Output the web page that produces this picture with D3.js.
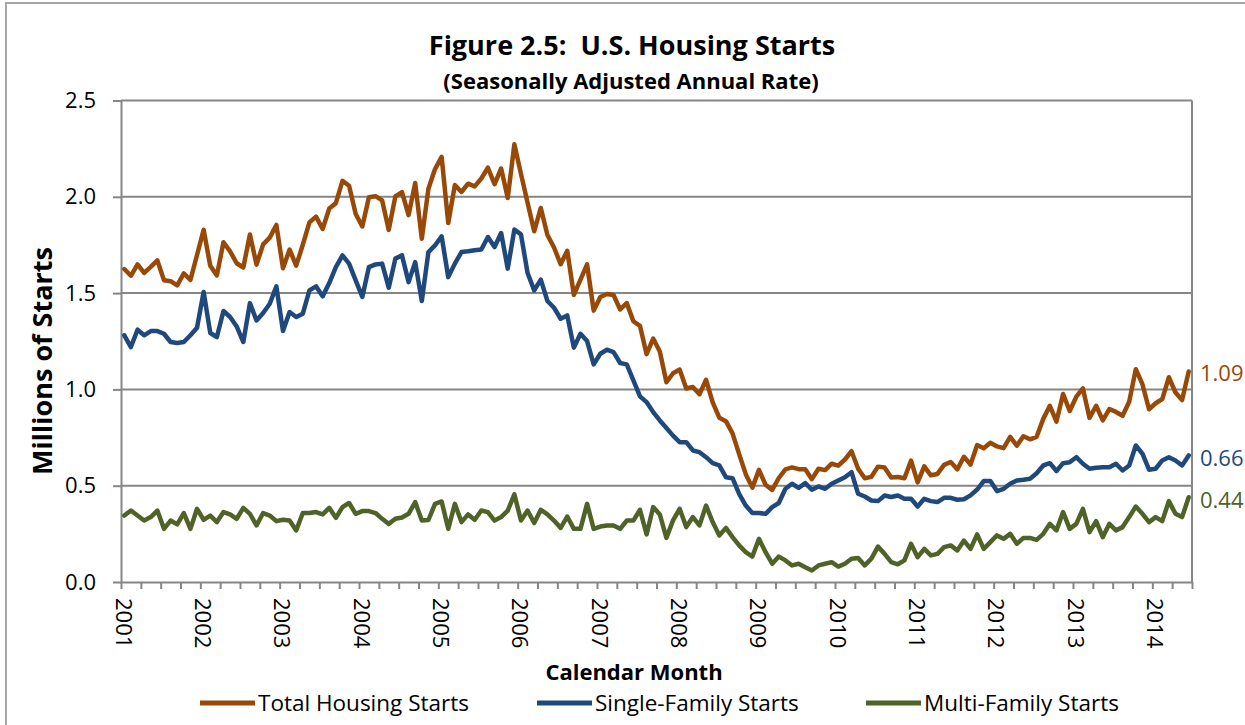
<!DOCTYPE html>
<html>
<head>
<meta charset="utf-8">
<script src="https://cdn.jsdelivr.net/npm/d3@7"></script>
<style>
  body { margin: 0; background: #fff; }
  svg { display: block; font-family: "Open Sans", sans-serif; }
  text { white-space: pre; }
</style>
</head>
<body>
<svg id="chart" width="1245" height="725"></svg>
<script>
// monthly SAAR, millions of starts, Feb 2001 .. Jul 2014
var yearLabels = ["2001", "2002", "2003", "2004", "2005", "2006", "2007",
                  "2008", "2009", "2010", "2011", "2012", "2013", "2014"];

var totalStarts = [
  1.625, 1.590, 1.649, 1.605, 1.636, 1.670, 1.567, 1.562, 1.540, 1.602, 1.568,
  1.698, 1.829, 1.642, 1.592, 1.764, 1.717, 1.655, 1.633, 1.804, 1.648, 1.753, 1.788,
  1.854, 1.629, 1.726, 1.643, 1.751, 1.867, 1.897, 1.833, 1.939, 1.967, 2.083, 2.057,
  1.911, 1.846, 1.998, 2.003, 1.981, 1.828, 2.002, 2.024, 1.905, 2.072, 1.782, 2.042,
  2.144, 2.207, 1.864, 2.061, 2.025, 2.068, 2.054, 2.095, 2.151, 2.065, 2.147, 1.994,
  2.273, 2.119, 1.969, 1.821, 1.942, 1.802, 1.737, 1.650, 1.720, 1.491, 1.570, 1.649,
  1.409, 1.480, 1.495, 1.490, 1.415, 1.448, 1.354, 1.330, 1.183, 1.264, 1.197, 1.037,
  1.084, 1.103, 1.005, 1.013, 0.975, 1.050, 0.933, 0.853, 0.835, 0.772, 0.664, 0.560,
  0.490, 0.582, 0.505, 0.478, 0.540, 0.585, 0.595, 0.586, 0.585, 0.534, 0.588, 0.581,
  0.614, 0.604, 0.636, 0.679, 0.588, 0.539, 0.546, 0.599, 0.594, 0.543, 0.545, 0.539,
  0.630, 0.517, 0.600, 0.554, 0.561, 0.608, 0.623, 0.585, 0.650, 0.610, 0.711, 0.694,
  0.723, 0.704, 0.695, 0.753, 0.708, 0.757, 0.741, 0.754, 0.847, 0.915, 0.833, 0.976,
  0.888, 0.962, 1.005, 0.852, 0.915, 0.839, 0.898, 0.883, 0.863, 0.936, 1.105, 1.027,
  0.897, 0.928, 0.950, 1.063, 0.984, 0.945, 1.093
];

var singleFamily = [
  1.281, 1.220, 1.310, 1.281, 1.303, 1.303, 1.289, 1.246, 1.241, 1.246, 1.281, 1.320,
  1.506, 1.293, 1.272, 1.407, 1.376, 1.327, 1.246, 1.448, 1.358, 1.397, 1.445, 1.535,
  1.303, 1.402, 1.376, 1.393, 1.514, 1.535, 1.483, 1.552, 1.635, 1.696, 1.653, 1.566,
  1.480, 1.635, 1.649, 1.653, 1.528, 1.679, 1.696, 1.557, 1.661, 1.459, 1.713, 1.748,
  1.795, 1.583, 1.653, 1.713, 1.717, 1.722, 1.726, 1.791, 1.739, 1.812, 1.627, 1.830,
  1.805, 1.604, 1.514, 1.570, 1.459, 1.424, 1.367, 1.384, 1.217, 1.289, 1.251, 1.130,
  1.185, 1.206, 1.194, 1.137, 1.130, 1.047, 0.964, 0.934, 0.882, 0.839, 0.800, 0.760,
  0.726, 0.726, 0.683, 0.674, 0.648, 0.617, 0.605, 0.544, 0.539, 0.458, 0.397, 0.358,
  0.358, 0.354, 0.389, 0.410, 0.484, 0.510, 0.489, 0.513, 0.479, 0.496, 0.484, 0.510,
  0.527, 0.544, 0.570, 0.458, 0.444, 0.423, 0.420, 0.449, 0.441, 0.449, 0.432, 0.432,
  0.392, 0.432, 0.420, 0.415, 0.437, 0.437, 0.427, 0.430, 0.450, 0.480, 0.524, 0.524,
  0.472, 0.484, 0.510, 0.527, 0.531, 0.536, 0.565, 0.605, 0.617, 0.576, 0.617, 0.622,
  0.648, 0.614, 0.588, 0.593, 0.596, 0.596, 0.614, 0.579, 0.605, 0.709, 0.666, 0.583,
  0.588, 0.631, 0.648, 0.631, 0.605, 0.657
];

var multiFamily = [
  0.345, 0.371, 0.345, 0.319, 0.337, 0.371, 0.276, 0.319, 0.299, 0.358, 0.276, 0.380,
  0.323, 0.345, 0.311, 0.363, 0.351, 0.328, 0.385, 0.354, 0.294, 0.358, 0.345, 0.316,
  0.323, 0.319, 0.268, 0.358, 0.358, 0.363, 0.351, 0.385, 0.333, 0.389, 0.410, 0.354,
  0.368, 0.368, 0.358, 0.328, 0.302, 0.328, 0.335, 0.354, 0.415, 0.319, 0.322, 0.406,
  0.418, 0.276, 0.406, 0.311, 0.351, 0.323, 0.371, 0.363, 0.319, 0.337, 0.371, 0.455,
  0.319, 0.371, 0.306, 0.375, 0.351, 0.319, 0.281, 0.340, 0.276, 0.276, 0.406, 0.276,
  0.288, 0.293, 0.293, 0.276, 0.319, 0.319, 0.375, 0.247, 0.389, 0.351, 0.229, 0.320,
  0.380, 0.285, 0.337, 0.294, 0.397, 0.311, 0.242, 0.281, 0.233, 0.190, 0.155, 0.132,
  0.224, 0.155, 0.095, 0.132, 0.112, 0.086, 0.095, 0.077, 0.060, 0.086, 0.095, 0.103,
  0.080, 0.095, 0.121, 0.125, 0.086, 0.121, 0.184, 0.146, 0.103, 0.092, 0.112, 0.198,
  0.129, 0.172, 0.138, 0.146, 0.181, 0.190, 0.164, 0.215, 0.172, 0.247, 0.172, 0.207,
  0.242, 0.224, 0.250, 0.198, 0.229, 0.229, 0.219, 0.250, 0.302, 0.268, 0.363, 0.276,
  0.302, 0.380, 0.259, 0.316, 0.233, 0.302, 0.268, 0.285, 0.337, 0.392, 0.354, 0.311,
  0.337, 0.316, 0.420, 0.354, 0.337, 0.440
];

var seriesNames = ["Total Housing Starts", "Single-Family Starts", "Multi-Family Starts"];
var seriesColors = ["#984807", "#1f497d", "#4f6228"];
var yTicks = [0, 0.5, 1.0, 1.5, 2.0, 2.5];

var svg = d3.select("#chart");
var plotLeft = 121, plotRight = 1192, plotTop = 100.5, plotBottom = 582;
var nMonths = totalStarts.length;
var gridColor = "#868686";

var x = d3.scaleLinear().domain([0, nMonths]).range([plotLeft, plotRight]);
var y = d3.scaleLinear().domain([0, 2.5]).range([plotBottom, plotTop]);

// outer frame
svg.append("path")
   .attr("d", "M6,730V3H1250")
   .attr("fill", "none")
   .attr("stroke", "#a6a6a6")
   .attr("stroke-width", 2);

// gridlines
svg.append("g").selectAll("line")
   .data(yTicks.slice(1))
   .enter().append("line")
   .attr("x1", plotLeft).attr("x2", plotRight)
   .attr("y1", function(d) { return y(d); })
   .attr("y2", function(d) { return y(d); })
   .attr("stroke", gridColor)
   .attr("stroke-width", 2);

svg.append("line")
   .attr("x1", plotRight).attr("x2", plotRight)
   .attr("y1", plotTop).attr("y2", plotBottom)
   .attr("stroke", gridColor).attr("stroke-width", 2);

// y axis
var yAxis = svg.append("g")
   .attr("transform", "translate(" + plotLeft + ",0)")
   .call(d3.axisLeft(y).tickValues(yTicks).tickFormat(d3.format(".1f"))
           .tickSizeInner(8).tickSizeOuter(0).tickPadding(17));
yAxis.selectAll("line, path").attr("stroke", gridColor).attr("stroke-width", 2);
yAxis.selectAll("text").attr("font-size", 22).attr("fill", "#000")
     .attr("font-family", "Open Sans, sans-serif");

// x axis: quarter ticks, year labels every 12 months
var xAxis = svg.append("g")
   .attr("transform", "translate(0," + plotBottom + ")")
   .call(d3.axisBottom(x)
           .tickValues(d3.range(0, nMonths + 1, 3))
           .tickSizeInner(7).tickSizeOuter(0)
           .tickFormat(function(d) { return (d % 12 === 0 && d / 12 < yearLabels.length) ? yearLabels[d / 12] : ""; }));
xAxis.selectAll("line, path").attr("stroke", gridColor).attr("stroke-width", 2);
xAxis.selectAll("text")
     .attr("font-size", 22).attr("fill", "#000")
     .attr("font-family", "Open Sans, sans-serif")
     .attr("text-anchor", "start")
     .attr("x", 0).attr("y", 0)
     .attr("dy", null)
     .attr("transform", "translate(-6,16) rotate(90)");

// series lines
var allSeries = [totalStarts, singleFamily, multiFamily];
var line = d3.line()
   .x(function(d, i) { return x(i + 0.5); })
   .y(function(d) { return y(d); });

allSeries.forEach(function(s, k) {
  svg.append("path")
     .datum(s)
     .attr("d", line)
     .attr("fill", "none")
     .attr("stroke", seriesColors[k])
     .attr("stroke-width", 4.5)
     .attr("stroke-linejoin", "round")
     .attr("stroke-linecap", "round");
});

// end-of-series value labels
var endLabelY = [373, 458, 500];
allSeries.forEach(function(s, k) {
  svg.append("text")
     .attr("x", plotRight + 8)
     .attr("y", endLabelY[k])
     .attr("dy", "0.35em")
     .attr("font-size", 22)
     .attr("fill", seriesColors[k])
     .text(d3.format(".2f")(s[s.length - 1]));
});

// titles
svg.append("text")
   .attr("x", 632).attr("y", 55)
   .attr("text-anchor", "middle")
   .attr("font-weight", "bold").attr("font-size", 27)
   .text("Figure 2.5:  U.S. Housing Starts");

svg.append("text")
   .attr("x", 631).attr("y", 89)
   .attr("text-anchor", "middle")
   .attr("font-weight", "bold").attr("font-size", 22)
   .text("(Seasonally Adjusted Annual Rate)");

svg.append("text")
   .attr("transform", "translate(52,361) rotate(-90)")
   .attr("text-anchor", "middle")
   .attr("font-weight", "bold").attr("font-size", 27)
   .text("Millions of Starts");

svg.append("text")
   .attr("x", 634).attr("y", 680)
   .attr("text-anchor", "middle")
   .attr("font-weight", "bold").attr("font-size", 22)
   .text("Calendar Month");

// legend
var legendX = [200, 537, 866];
var legend = svg.append("g").selectAll("g")
   .data(seriesNames)
   .enter().append("g")
   .attr("transform", function(d, i) { return "translate(" + legendX[i] + ",703)"; });

legend.append("line")
   .attr("x1", 0).attr("x2", 55)
   .attr("stroke", function(d, i) { return seriesColors[i]; })
   .attr("stroke-width", 5);

legend.append("text")
   .attr("x", 58).attr("dy", "0.35em")
   .attr("font-size", 22.5)
   .text(function(d) { return d; });
</script>
</body>
</html>
